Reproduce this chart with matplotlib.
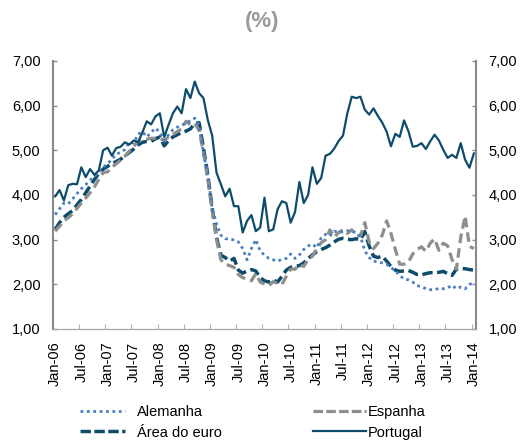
import matplotlib
matplotlib.use("Agg")
import matplotlib.pyplot as plt
from matplotlib.lines import Line2D
from matplotlib.ticker import FuncFormatter, FixedLocator

plt.rcParams['font.family'] = ['Liberation Sans', 'DejaVu Sans']

# months Jan-06 .. Jan-14 (97 monthly values)
years = ['06', '07', '08', '09', '10', '11', '12', '13', '14']
tick_labels = []
for y in years:
    tick_labels.append('Jan-' + y)
    if y != '14':
        tick_labels.append('Jul-' + y)

alemanha = [3.56, 3.69, 3.82, 3.80, 3.91, 4.03, 4.14, 4.23, 4.33, 4.42,
            4.52, 4.62, 4.70, 4.80, 4.92, 4.95, 5.02, 5.18, 5.16, 5.36,
            5.42, 5.30, 5.40, 5.50, 5.40, 5.22, 5.35, 5.46, 5.52, 5.56,
            5.61, 5.66, 5.72, 5.57, 4.95, 4.45, 3.70, 3.35, 3.10, 3.02,
            3.02, 2.99, 2.95, 2.80, 2.55, 2.80, 3.00, 2.75, 2.65, 2.58,
            2.55, 2.52, 2.56, 2.58, 2.68, 2.58, 2.66, 2.78, 2.86, 2.90,
            2.82, 3.04, 3.12, 3.08, 3.19, 3.16, 3.18, 3.20, 3.18, 3.16,
            3.08, 2.75, 2.60, 2.52, 2.50, 2.48, 2.45, 2.38, 2.30, 2.20,
            2.12, 2.10, 2.05, 1.97, 1.95, 1.90, 1.88, 1.88, 1.91, 1.90,
            1.92, 1.98, 1.90, 1.94, 1.90, 2.00, 2.03]

espanha = [3.19, 3.30, 3.42, 3.49, 3.58, 3.70, 3.82, 3.93, 4.05, 4.18,
           4.35, 4.50, 4.52, 4.62, 4.70, 4.78, 4.87, 4.98, 5.08, 5.20,
           5.24, 5.25, 5.27, 5.27, 5.27, 5.22, 5.30, 5.35, 5.42, 5.48,
           5.65, 5.57, 5.60, 5.45, 4.95, 4.35, 3.65, 3.00, 2.55, 2.45,
           2.42, 2.38, 2.22, 2.15, 2.12, 2.08, 2.24, 2.05, 2.01, 1.97,
           2.06, 2.02, 2.00, 2.18, 2.34, 2.34, 2.44, 2.40, 2.56, 2.63,
           2.80, 2.93, 3.00, 3.22, 3.06, 3.16, 3.22, 3.14, 3.22, 3.10,
           3.08, 3.38, 2.95, 2.80, 2.92, 3.10, 3.42, 3.14, 2.78, 2.45,
           2.45, 2.50, 2.68, 2.78, 2.84, 2.74, 2.92, 3.02, 2.76, 2.92,
           2.86, 2.56, 2.34, 3.05, 3.53, 2.85, 2.80]

area_euro = [3.23, 3.38, 3.50, 3.58, 3.65, 3.78, 3.90, 4.05, 4.20, 4.35,
             4.48, 4.58, 4.64, 4.70, 4.75, 4.80, 4.88, 4.95, 5.03, 5.12,
             5.18, 5.20, 5.20, 5.26, 5.30, 5.10, 5.22, 5.30, 5.35, 5.40,
             5.43, 5.48, 5.60, 5.62, 5.05, 4.45, 3.70, 3.05, 2.65, 2.60,
             2.52, 2.58, 2.32, 2.25, 2.30, 2.33, 2.30, 2.15, 2.08, 2.05,
             2.10, 2.05, 2.18, 2.32, 2.38, 2.40, 2.42, 2.48, 2.58, 2.66,
             2.73, 2.78, 2.82, 2.88, 2.95, 3.01, 3.03, 3.01, 3.00, 3.02,
             3.00, 3.18, 2.86, 2.63, 2.60, 2.63, 2.52, 2.40, 2.32, 2.29,
             2.30, 2.31, 2.27, 2.22, 2.21, 2.24, 2.26, 2.26, 2.27, 2.29,
             2.24, 2.20, 2.34, 2.35, 2.35, 2.33, 2.32]

portugal = [3.97, 4.11, 3.88, 4.22, 4.25, 4.24, 4.62, 4.40, 4.58, 4.45,
            4.55, 5.00, 5.06, 4.88, 5.05, 5.08, 5.18, 5.13, 5.22, 5.18,
            5.40, 5.65, 5.58, 5.76, 5.83, 5.30, 5.57, 5.83, 5.98, 5.83,
            6.37, 6.17, 6.54, 6.28, 6.17, 5.68, 5.33, 4.50, 4.24, 3.97,
            4.14, 3.75, 3.75, 3.16, 3.42, 3.55, 3.19, 3.27, 3.94, 3.19,
            3.23, 3.68, 3.86, 3.82, 3.38, 3.62, 4.29, 3.82, 4.00, 4.62,
            4.25, 4.38, 4.88, 4.92, 5.04, 5.21, 5.33, 5.83, 6.20, 6.17,
            6.20, 5.91, 5.80, 5.94, 5.77, 5.62, 5.42, 5.09, 5.37, 5.30,
            5.67, 5.43, 5.08, 5.10, 5.16, 5.03, 5.20, 5.35, 5.22, 5.01,
            4.83, 4.90, 4.83, 5.16, 4.79, 4.61, 4.93]

dark = '#0E4C6C'
blue = '#4A7EC2'
grey = '#8E8E8E'
axis_grey = '#8A8A8A'

W, H = 520, 441


def plotSeries(ax):
    x = list(range(len(portugal)))
    ax.plot(x, area_euro, color=dark, lw=2.5, ls=(0, (3.0, 1.3)), zorder=2)
    ax.plot(x, espanha, color=grey, lw=2.3, ls=(0, (3.0, 1.6)), zorder=3)
    ax.plot(x, alemanha, color=blue, lw=2.0, ls=(0, (1.0, 1.3)), zorder=4)
    ax.plot(x, portugal, color=dark, lw=1.6, zorder=5)


def styleAxes(ax):
    ax.set_xlim(-0.5, len(portugal) - 0.5)
    ax.set_ylim(1, 7)
    ax.set_yticks(range(1, 8))
    ax.yaxis.set_major_formatter(FuncFormatter(lambda v, p: ('%.2f' % v).replace('.', ',')))
    ax.tick_params(axis='y', which='major', direction='in', length=3, width=1,
                   color=axis_grey, labelsize=10.5, left=True, right=True,
                   labelleft=True, labelright=True, pad=9)

    # labels on the month, tick marks between categories
    ax.set_xticks([6 * k for k in range(len(tick_labels))])
    ax.set_xticklabels(tick_labels, rotation=90, fontsize=10.5)
    ax.xaxis.set_minor_locator(FixedLocator([6 * k - 0.5 for k in range(len(tick_labels))]))
    ax.tick_params(axis='x', which='major', length=0, pad=9)
    ax.tick_params(axis='x', which='minor', direction='in', length=3.5,
                   width=0.8, color='#B0B0B0')

    ax.spines['top'].set_visible(False)
    for s in ['left', 'right']:
        ax.spines[s].set_color(axis_grey)
        ax.spines[s].set_linewidth(1.5)
    ax.spines['bottom'].set_color('#A8A8A8')
    ax.spines['bottom'].set_linewidth(0.9)


def legends(fig):
    h_ale = Line2D([], [], color=blue, lw=2.0, ls=(0, (1.0, 1.3)))
    h_are = Line2D([], [], color=dark, lw=2.5, ls=(0, (3.0, 1.0)))
    h_esp = Line2D([], [], color=grey, lw=2.3, ls=(0, (3.0, 1.0)))
    h_por = Line2D([], [], color=dark, lw=1.6)
    common = dict(frameon=False, fontsize=10.5, borderpad=0, borderaxespad=0,
                  labelspacing=0.45, loc='upper left')
    fig.legend([h_ale, h_are], ['Alemanha', 'Área do euro'],
               bbox_to_anchor=(80 / W, 1 - 405 / H), handlelength=3.1,
               handletextpad=0.8, **common)
    fig.legend([h_esp, h_por], ['Espanha', 'Portugal'],
               bbox_to_anchor=(313 / W, 1 - 405 / H), handlelength=3.6,
               handletextpad=0.15, **common)


def main():
    fig = plt.figure(figsize=(W / 100, H / 100), dpi=100)
    ax = fig.add_axes([53 / W, 1 - 329 / H, 423 / W, 268 / H])
    plotSeries(ax)
    styleAxes(ax)
    fig.text(262 / W, 1 - 22 / H, '(%)', ha='center', va='center',
             fontsize=16, fontweight='bold', color='#9A9A9A')
    legends(fig)
    fig.savefig('out.png', dpi=100)


if __name__ == '__main__': main()
